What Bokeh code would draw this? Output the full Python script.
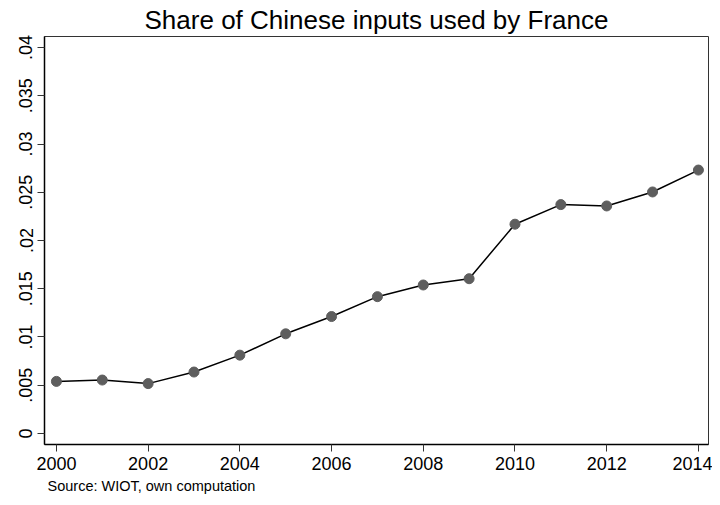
from bokeh.plotting import figure
from bokeh.models import Range1d, FixedTicker, Title
from bokeh.embed import file_html
from bokeh.resources import INLINE

years = [2000, 2001, 2002, 2003, 2004, 2005, 2006, 2007, 2008, 2009, 2010, 2011, 2012, 2013, 2014]
share = [0.0054, 0.00554, 0.00517, 0.00637, 0.00812, 0.01033, 0.01212, 0.01418,
         0.01539, 0.01604, 0.02169, 0.02372, 0.02358, 0.02503, 0.0273]
y_ticks = [0, 0.005, 0.01, 0.015, 0.02, 0.025, 0.03, 0.035, 0.04]
y_labels = ["0", ".005", ".01", ".015", ".02", ".025", ".03", ".035", ".04"]
x_ticks = [2000, 2002, 2004, 2006, 2008, 2010, 2012, 2014]

FONT = "Liberation Sans"

p = figure(width=712, height=497, output_backend="svg", toolbar_location=None,
           x_range=Range1d(1999.74, 2014.22), y_range=Range1d(-0.00114, 0.04114),
           min_border_left=44, min_border_right=4, min_border_top=35, min_border_bottom=53)

p.title.text = "Share of Chinese inputs used by France"
p.title.align = "center"
p.title.text_font = FONT
p.title.text_font_size = "26px"
p.title.text_font_style = "normal"
p.title.text_color = "black"
p.title.standoff = 4

p.line(years, share, line_color="black", line_width=1.5)
p.scatter(years, share, size=10, fill_color="#5e5e5e", line_color="#5e5e5e")

p.xgrid.visible = False
p.ygrid.visible = False
p.outline_line_color = "#333333"
p.outline_line_width = 1

for ax in (p.xaxis[0], p.yaxis[0]):
    ax.axis_line_color = "black"
    ax.axis_line_width = 1.5
    ax.major_tick_line_color = "#333333"
    ax.major_tick_line_width = 1
    ax.major_tick_out = 7
    ax.major_tick_in = 0
    ax.minor_tick_line_color = None
    ax.major_label_text_font = FONT
    ax.major_label_text_font_size = "18px"
    ax.major_label_text_color = "black"
    ax.major_label_standoff = 5

p.xaxis[0].ticker = FixedTicker(ticks=x_ticks)
p.yaxis[0].ticker = FixedTicker(ticks=y_ticks)
p.yaxis[0].major_label_overrides = {t: l for t, l in zip(y_ticks, y_labels)}
p.yaxis[0].major_label_orientation = "vertical"

note = Title(text="Source: WIOT, own computation", align="left", offset=3,
             text_font=FONT, text_font_size="14.5px", text_font_style="normal",
             text_color="black", standoff=7)
p.add_layout(note, "below")

open("out.html", "w").write(file_html(p, INLINE))
